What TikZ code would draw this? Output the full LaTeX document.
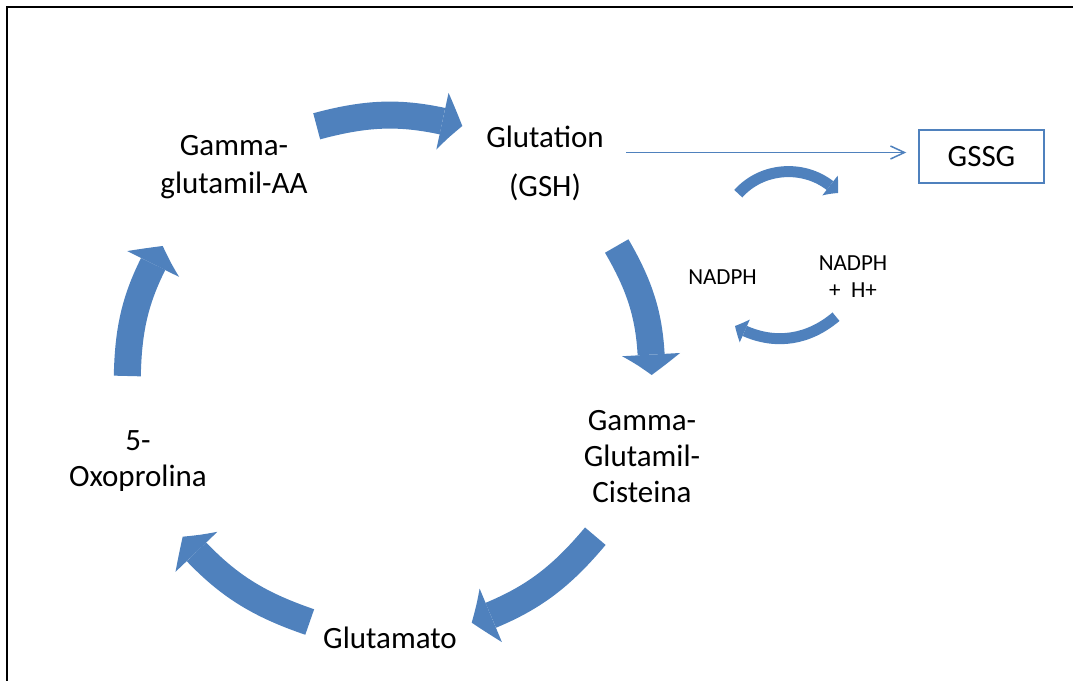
\documentclass[tikz,border=0pt]{standalone}
\usepackage{fontspec}
\setmainfont{Carlito}
\usetikzlibrary{arrows.meta,bending}
\definecolor{azul}{RGB}{79,129,189}

\begin{document}
\begin{tikzpicture}[x=1pt,y=1pt,
  every node/.style={font=\fontsize{31}{38}\selectfont,align=center,inner sep=0pt},
  petit/.style={font=\fontsize{23}{27}\selectfont},
  gros/.style={draw=azul,line width=27pt,-{Triangle[length=21pt,width=58pt,line width=0pt,bend]}},
  mince/.style={draw=azul,line width=11pt,-{Triangle[length=11pt,width=25pt,line width=0pt,bend]}},
  fil/.style={draw=azul,line width=1.5pt,-{Straight Barb[length=14pt,width=13pt]}},
  boite/.style={draw=azul,line width=1.5pt,minimum width=125pt,minimum height=53pt}]

\useasboundingbox (0,0) rectangle (1073,681);
\draw[line width=2pt] (1073,674)--(7,674)--(7,0); %le cadre

%les noms
\node (gaa) at (234,514) {Gamma-\\glutamil-AA};
\node (gsh) at (545,517.5) {Glutation\\[11pt](GSH)};
\node[boite] (gssg) at (981.5,524.5) {GSSG};
\node[font=\fontsize{31}{36}\selectfont] (ggc) at (642,224) {Gamma-\\Glutamil-\\Cisteina};
\node (glm) at (390,43.5) {Glutamato};
\node[font=\fontsize{31}{36}\selectfont] (oxo) at (138,220) {5-\\Oxoprolina};
\node[petit] (nad) at (722.5,404) {NADPH};
\node[petit] (nadh) at (853,404.5) {NADPH\\+\ \ H+};

%le cycle
\coordinate (a1) at (316.7,554.7); \coordinate (b1) at (462.3,555);
\coordinate (a2) at (616.7,435);   \coordinate (b2) at (651.7,306);
\coordinate (a3) at (595.3,144.8); \coordinate (b3) at (471.7,58.3);
\coordinate (a4) at (309.7,59);    \coordinate (b4) at (182.7,144.3);
\coordinate (a5) at (127.3,305);   \coordinate (b5) at (162.7,435);
\draw[gros] (a1) to[bend left=15] (b1);
\draw[gros] (a2) to[bend left=15] (b2);
\draw[gros] (a3) to[bend left=15] (b3);
\draw[gros] (a4) to[bend left=15] (b4);
\draw[gros] (a5) to[bend left=14] (b5);

%NADPH
\coordinate (a6) at (738.3,487.3); \coordinate (b6) at (838,488);
\coordinate (a7) at (836,364.3);   \coordinate (b7) at (735,355);
\draw[mince] (a6) to[bend left=48] (b6);
\draw[mince] (a7) to[bend left=35] (b7);

%GSSG
\coordinate (sal) at (626,528.5);
\draw[fil,shorten >=12pt] (sal) -- (sal -| gssg.west);

\end{tikzpicture}
\end{document}
